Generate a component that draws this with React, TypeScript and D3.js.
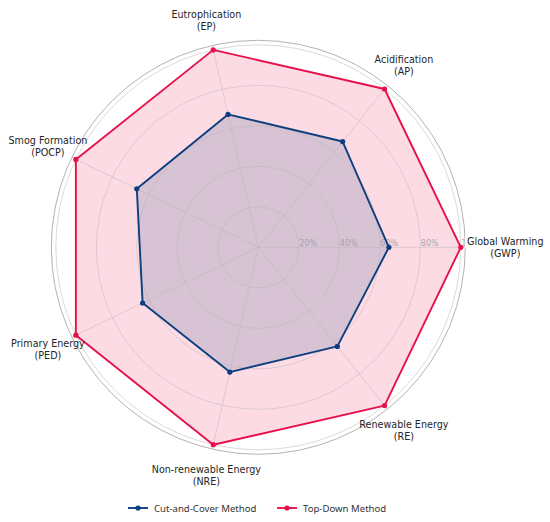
import React, { useEffect } from "react";
import * as d3 from "d3";

// Radar: comparação dos dois métodos construtivos (valores normalizados, %)
const AXES = [
    ["Global Warming", "(GWP)"],
    ["Acidification", "(AP)"],
    ["Eutrophication", "(EP)"],
    ["Smog Formation", "(POCP)"],
    ["Primary Energy", "(PED)"],
    ["Non-renewable Energy", "(NRE)"],
    ["Renewable Energy", "(RE)"],
];
const CUT_AND_COVER = [64.5, 66.8, 67.3, 66.6, 63.4, 63.2, 62.6];
const TOP_DOWN = [100, 100, 100, 100, 100, 100, 100];
const R_TICKS = [20, 40, 60, 80, 100];
const SERIES_NAMES = ["Cut-and-Cover Method", "Top-Down Method"];

const W = 550;
const H = 522;
const CX = 258.3;
const CY = 247.3;
const BLUE = "#0d3f7e";
const RED = "#e8104a";
const FONT = "'DejaVu Sans', sans-serif";

const App: React.FC = () => {
    useEffect(() => {
        document.body.style.margin = "0";
    }, []);

    const r = d3.scaleLinear().domain([0, 100]).range([0, 202.5]);
    const frameR = 207;
    const n = AXES.length;
    const angle = d3.scaleLinear().domain([0, n]).range([0, 2 * Math.PI]);
    // ângulo matemático (anti-horário a partir do leste)
    const pt = (i: number, rad: number): [number, number] => [
        CX + rad * Math.cos(angle(i)),
        CY - rad * Math.sin(angle(i)),
    ];

    const line = (vals: number[]) =>
        d3.line<number>()
            .x((v, i) => pt(i, r(v))[0])
            .y((v, i) => pt(i, r(v))[1])
            .curve(d3.curveLinearClosed)(vals) ?? "";

    const series = [
        { name: SERIES_NAMES[1], vals: TOP_DOWN, color: RED },
        { name: SERIES_NAMES[0], vals: CUT_AND_COVER, color: BLUE },
    ];

    const labels = AXES.map(([a, b], i) => {
        const rad = i === 0 ? 247 : 233.5;
        const [x, y] = pt(i, rad);
        return { a, b, x, y, w: a.length * 5.6 + 2 };
    });

    return (
        <svg width={W} height={H} style={{ display: "block" }}>
            <rect width={W} height={H} fill="#fff" />

            {/* Preenchimentos */}
            {series.map((s) => (
                <path key={s.name + "-fill"} d={line(s.vals)} fill={s.color} fillOpacity={0.15} stroke="none" />
            ))}

            {/* Grade */}
            {R_TICKS.map((t) => (
                <circle key={t} cx={CX} cy={CY} r={r(t)} fill="none"
                    stroke={t === 100 ? "#d6d6d6" : "#b0b0b0"} strokeOpacity={t === 100 ? 1 : 0.45} strokeWidth={0.9} />
            ))}
            {AXES.map((_, i) => {
                const [x, y] = pt(i, frameR);
                return <line key={i} x1={CX} y1={CY} x2={x} y2={y} stroke="#b0b0b0" strokeOpacity={0.45} strokeWidth={0.9} />;
            })}
            <circle cx={CX} cy={CY} r={frameR} fill="none" stroke="#b3b3b3" strokeWidth={1} />

            {/* Rótulos radiais */}
            {R_TICKS.map((t) => (
                <text key={"l" + t} x={CX + r(t) + 0.5} y={CY - 1.5} fontFamily={FONT} fontSize={8}
                    fill="#9a9a9a" fillOpacity={0.85}>{t}%</text>
            ))}

            {/* Fundo branco do rótulo que cobre o "100%" */}
            <rect x={labels[0].x - labels[0].w / 2} y={labels[0].y - 11} width={labels[0].w} height={12} fill="#fff" />

            {/* Linhas e marcadores */}
            {series.map((s) => (
                <g key={s.name}>
                    <path d={line(s.vals)} fill="none" stroke={s.color} strokeWidth={1.9} strokeLinejoin="round" />
                    {s.vals.map((v, i) => {
                        const [x, y] = pt(i, r(v));
                        return <circle key={i} cx={x} cy={y} r={2.6} fill={s.color} />;
                    })}
                </g>
            ))}

            {/* Rótulos dos eixos */}
            {labels.map((l, i) => (
                <g key={"ax" + i}>
                    <text x={l.x} y={l.y - 2} textAnchor="middle" fontFamily={FONT} fontSize={9.6} fill="#262626">{l.a}</text>
                    <text x={l.x} y={l.y + 10} textAnchor="middle" fontFamily={FONT} fontSize={9.6} fill="#262626">{l.b}</text>
                </g>
            ))}

            {/* Legenda */}
            {[
                { name: SERIES_NAMES[0], color: BLUE, x: 128 },
                { name: SERIES_NAMES[1], color: RED, x: 277 },
            ].map((l) => (
                <g key={l.name} transform={`translate(${l.x},508)`}>
                    <line x1={0} x2={20} y1={0} y2={0} stroke={l.color} strokeWidth={1.9} />
                    <circle cx={10} cy={0} r={2.6} fill={l.color} />
                    <text x={26} y={3.5} fontFamily="'Noto Sans', sans-serif" fontSize={9.6} fill="#333">{l.name}</text>
                </g>
            ))}
        </svg>
    );
};

export default App;
